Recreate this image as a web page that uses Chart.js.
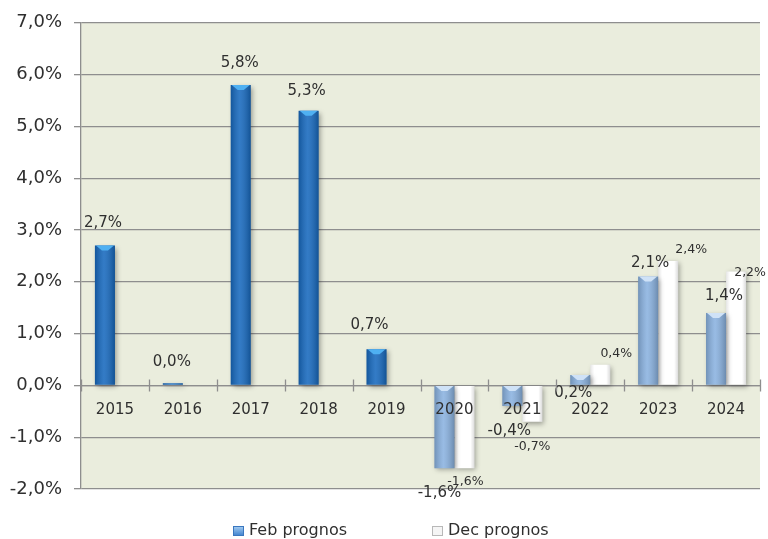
<!DOCTYPE html>
<html>
<head>
<meta charset="utf-8">
<script src="https://cdn.jsdelivr.net/npm/chart.js@4.4.1/dist/chart.umd.min.js"></script>
<style>
  html, body { margin: 0; padding: 0; background: #fff; }
  canvas { display: block; }
</style>
</head>
<body>
<canvas id="prognos" width="768" height="539"></canvas>
<script>
// ── Data ──────────────────────────────────
const years      = ['2015', '2016', '2017', '2018', '2019', '2020', '2021', '2022', '2023', '2024'];
const febPrognos = [2.7, 0.04, 5.8, 5.3, 0.7, -1.6, -0.4, 0.2, 2.1, 1.4];
const decPrognos = [null, null, null, null, null, -1.6, -0.7, 0.4, 2.4, 2.2];
const yMin = -2, yMax = 7, yStep = 1;

const fmtPct = v => v.toFixed(1).replace('.', ',') + '%';

const FONT = '"DejaVu Sans", Verdana, sans-serif';
const GRID = '#8e8e8e';
const TEXT = '#2f2f2f';

// outcome years (no Dec revision) dark blue, forecast years light blue
const febFill  = i => decPrognos[i] === null ? '#1769BE' : '#8AB2E0';
const febBevel = i => decPrognos[i] === null ? '#4FB0F2' : '#CFE2F7';

// ── Plot background ───────────────────────
const plotBg = {
  id: 'plotBg',
  beforeDraw(chart) {
    const { ctx, chartArea: a } = chart;
    ctx.save();
    ctx.fillStyle = '#EAEDDD';
    ctx.fillRect(a.left, a.top, a.right - a.left, a.bottom - a.top);
    ctx.restore();
  }
};

// ── Bar shading, shadows and value labels ─
const barDeco = {
  id: 'barDeco',
  beforeDatasetsDraw(chart) {
    const ctx = chart.ctx;
    ctx.save();
    ctx.shadowColor = 'rgba(0,0,0,0.35)';
    ctx.shadowBlur = 5;
    ctx.shadowOffsetX = 2;
    ctx.shadowOffsetY = 2;
  },
  afterDatasetsDraw(chart, args, opts) {
    const ctx = chart.ctx;
    ctx.restore();

    chart.data.datasets.forEach((ds, di) => {
      const meta = chart.getDatasetMeta(di);
      meta.data.forEach((el, i) => {
        const v = ds.data[i];
        if (v === null || v === undefined) return;
        const { x, y, base, width } = el.getProps(['x', 'y', 'base', 'width'], true);
        const l = x - width / 2, r = x + width / 2;
        const top = Math.min(y, base), bot = Math.max(y, base);

        // cylinder-ish side shading
        const g = ctx.createLinearGradient(l, 0, r, 0);
        if (di === 0) {
          g.addColorStop(0, 'rgba(0,0,0,0.18)');
          g.addColorStop(0.45, 'rgba(255,255,255,0.12)');
          g.addColorStop(1, 'rgba(0,0,0,0.22)');
        } else {
          g.addColorStop(0, 'rgba(0,0,0,0.10)');
          g.addColorStop(0.2, 'rgba(0,0,0,0)');
          g.addColorStop(0.8, 'rgba(0,0,0,0)');
          g.addColorStop(1, 'rgba(0,0,0,0.14)');
        }
        ctx.fillStyle = g;
        ctx.fillRect(l, top, width, bot - top);

        // bevel cap on the top edge
        if (di === 0 && bot - top > 4) {
          ctx.fillStyle = febBevel(i);
          ctx.beginPath();
          ctx.moveTo(l + 1, top);
          ctx.lineTo(r - 1, top);
          ctx.lineTo(x + 3, top + 5);
          ctx.lineTo(x - 3, top + 5);
          ctx.closePath();
          ctx.fill();
        }

        // value label
        const shift = opts.shift[di][i] || [0, v >= 0 ? -22 : 22];
        ctx.fillStyle = TEXT;
        ctx.font = (di === 0 ? '15px ' : '12.5px ') + FONT;
        ctx.textAlign = 'center';
        ctx.textBaseline = 'middle';
        ctx.fillText(fmtPct(v), x + shift[0], y + shift[1]);
      });
    });

    // tick marks across the zero line at category borders
    const xs = chart.scales.x, ys = chart.scales.y;
    const y0 = ys.getPixelForValue(0);
    ctx.save();
    ctx.strokeStyle = GRID;
    ctx.lineWidth = 1.3;
    ctx.beginPath();
    for (let k = 0; k <= years.length; k++) {
      const px = Math.round(xs.getPixelForValue(k - 0.5)) + 0.5;
      ctx.moveTo(px, y0 - 6);
      ctx.lineTo(px, y0 + 6);
    }
    ctx.stroke();
    ctx.restore();
  }
};

// ── Legend under the plot ─────────────────
const bottomLegend = {
  id: 'bottomLegend',
  afterDraw(chart, args, opts) {
    const ctx = chart.ctx;
    ctx.save();
    ctx.font = '16px ' + FONT;
    ctx.textBaseline = 'middle';
    ctx.textAlign = 'left';
    opts.items.forEach(it => {
      const bx = it.x, by = opts.y - 5;
      if (it.gradient) {
        const g = ctx.createLinearGradient(0, by, 0, by + 10);
        g.addColorStop(0, '#A9D0F3');
        g.addColorStop(1, '#3B7FCD');
        ctx.fillStyle = g;
      } else {
        ctx.fillStyle = it.fill;
      }
      ctx.fillRect(bx, by, 11, 10);
      ctx.strokeStyle = it.stroke;
      ctx.lineWidth = 1;
      ctx.strokeRect(bx + 0.5, by + 0.5, 10, 9);
      ctx.fillStyle = TEXT;
      ctx.fillText(it.text, bx + 16, opts.y);
    });
    ctx.restore();
  }
};

new Chart(document.getElementById('prognos'), {
  type: 'bar',
  data: {
    labels: years,
    datasets: [
      {
        label: 'Feb prognos',
        data: febPrognos,
        backgroundColor: c => febFill(c.dataIndex),
        borderWidth: 0
      },
      {
        label: 'Dec prognos',
        data: decPrognos,
        backgroundColor: '#FFFFFF',
        borderWidth: 0
      }
    ]
  },
  options: {
    responsive: false,
    animation: false,
    events: [],
    categoryPercentage: 0.59,
    barPercentage: 1,
    layout: { padding: { left: 0, right: 8, top: 22, bottom: 50 } },
    plugins: {
      legend: { display: false },
      tooltip: { enabled: false },
      barDeco: {
        // label offsets from the bar end, [dx, dy]
        shift: [
          [[-2, -22], [-1, -21], [-1, -22], [-2, -20], [-7, -24], [-5, 25], [-3, 25], [-7, 18], [2, -14], [8, -17]],
          [null, null, null, null, null, [1, 13], [0, 25], [16, -11], [23, -11], [14, 1]]
        ]
      },
      bottomLegend: {
        y: 531,
        items: [
          { x: 233, text: 'Feb prognos', gradient: true, stroke: '#3A77BF' },
          { x: 432, text: 'Dec prognos', fill: '#F5F5F5', stroke: '#B8B8B8' }
        ]
      }
    },
    scales: {
      x: {
        position: { y: 0 },
        grid: { display: false, drawTicks: false },
        border: { display: true, color: GRID, width: 1.3 },
        ticks: { z: 1, color: TEXT, font: { family: FONT, size: 15 }, padding: 16 }
      },
      y: {
        min: yMin,
        max: yMax,
        afterFit: s => { s.width = 81; },
        grid: { color: GRID, lineWidth: 1.3, tickLength: 7 },
        border: { display: true, color: GRID, width: 1.3 },
        ticks: {
          stepSize: yStep,
          color: TEXT,
          font: { family: FONT, size: 18 },
          padding: 12,
          callback: v => fmtPct(v)
        }
      }
    }
  },
  plugins: [plotBg, barDeco, bottomLegend]
});
</script>
</body>
</html>
